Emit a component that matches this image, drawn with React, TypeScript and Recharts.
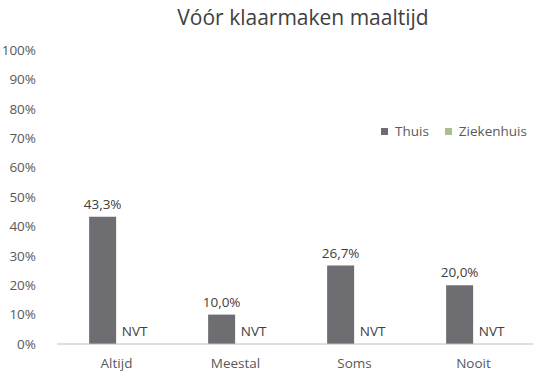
import React from "react";
import { BarChart, Bar, XAxis, YAxis, Legend, LabelList } from "recharts";

const categories = ["Altijd", "Meestal", "Soms", "Nooit"];
const thuis = [43.3, 10.0, 26.7, 20.0];
const ziekenhuis = [0, 0, 0, 0];
const ziekenhuisLabel = ["NVT", "NVT", "NVT", "NVT"];
const yTicks = [0, 10, 20, 30, 40, 50, 60, 70, 80, 90, 100];

const data = categories.map((c, i) => ({
  name: c,
  Thuis: thuis[i],
  Ziekenhuis: ziekenhuis[i],
  zLabel: ziekenhuisLabel[i],
}));

const font = "'Open Sans', sans-serif";
const pct = (v: any) => Number(v).toFixed(1).replace(".", ",") + "%";

// Ziekenhuis bars have height 0, so their "NVT" label is drawn next to the Thuis bar
const NvtLabel = (props: any) => {
  const { x, y, width, height, index } = props;
  const base = Number(y) + Number(height);
  return (
    <text
      x={Number(x) + Number(width) * 1.5 + 5}
      y={base - 8}
      textAnchor="middle"
      fill="#404040"
      fontSize={13.5}
      fontFamily={font}
    >
      {data[index].zLabel}
    </text>
  );
};

// legend drawn in a zero-size wrapper so it does not shrink the plot area
const LegendContent = (props: any) => (
  <div style={{ whiteSpace: "nowrap", display: "flex", alignItems: "center", fontSize: 13.5, color: "#595959" }}>
    {(props.payload || []).map((p: any) => (
      <span key={p.value} style={{ display: "inline-flex", alignItems: "center", marginRight: 16 }}>
        <span style={{ width: 7, height: 7, background: p.color, display: "inline-block", marginRight: 7 }} />
        {p.value}
      </span>
    ))}
  </div>
);

export default function App() {
  return (
    <div style={{ position: "absolute", left: 0, top: 0, width: 559, height: 379, background: "#fff", fontFamily: font }}>
      <div
        style={{
          position: "absolute",
          top: 3,
          left: 65,
          width: 476,
          textAlign: "center",
          fontSize: 21,
          color: "#404040",
        }}
      >
        Vóór klaarmaken maaltijd
      </div>
      <BarChart
        width={559}
        height={379}
        data={data}
        margin={{ top: 50, right: 26, left: 0, bottom: 0 }}
        barCategoryGap="27%"
        barGap={0}
      >
        <XAxis
          dataKey="name"
          axisLine={{ stroke: "#bfbfbf" }}
          tickLine={false}
          height={35}
          tick={{ fill: "#595959", fontSize: 13.5, fontFamily: font }}
          tickMargin={8}
        />
        <YAxis
          domain={[0, 100]}
          ticks={yTicks}
          interval={0}
          width={57}
          axisLine={false}
          tickLine={false}
          tickFormatter={(v: number) => v + "%"}
          tick={{ fill: "#595959", fontSize: 13.5, fontFamily: font }}
          tickMargin={15}
        />
        <Legend
          verticalAlign="middle"
          align="right"
          layout="horizontal"
          content={LegendContent}
          wrapperStyle={{ position: "absolute", top: 122, left: 381, width: 0, height: 0, overflow: "visible", fontFamily: font }}
        />
        <Bar dataKey="Thuis" fill="#6d6d72" isAnimationActive={false}>
          <LabelList dataKey="Thuis" position="top" offset={8} formatter={pct} fill="#404040" fontSize={13.5} fontFamily={font} />
          <LabelList dataKey="zLabel" content={NvtLabel} />
        </Bar>
        <Bar dataKey="Ziekenhuis" fill="#a9bf8f" isAnimationActive={false} />
      </BarChart>
    </div>
  );
}
